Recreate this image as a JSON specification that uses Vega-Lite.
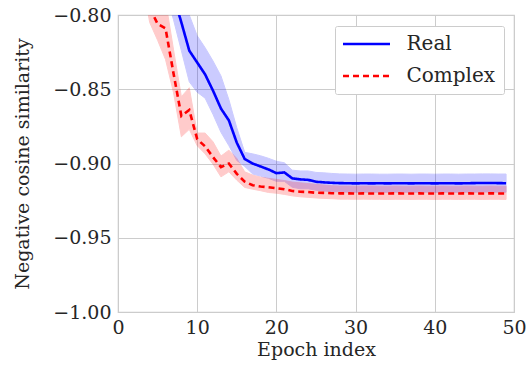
{
  "$schema": "https://vega.github.io/schema/vega-lite/v6.json",
  "width": 396,
  "height": 297,
  "autosize": {"type": "none"},
  "padding": {"left": 118, "top": 15, "right": 12, "bottom": 55},
  "background": "white",
  "config": {
    "view": {"stroke": "#cccccc", "strokeWidth": 1.2},
    "font": "DejaVu Serif",
    "axis": {
      "grid": true,
      "gridColor": "#cccccc",
      "gridWidth": 1,
      "domain": false,
      "ticks": false,
      "tickSize": 0,
      "labelFont": "DejaVu Serif",
      "labelFontSize": 19,
      "labelColor": "#262626",
      "titleFont": "DejaVu Serif",
      "titleFontSize": 19,
      "titleFontWeight": "normal",
      "titleColor": "#262626"
    },
    "legend": {
      "labelFont": "DejaVu Serif",
      "labelFontSize": 20,
      "labelColor": "#262626"
    }
  },
  "datasets": {
    "runs": [
      {"epoch": 0, "series": "Real", "mean": -0.50, "lo": -0.53, "hi": -0.47},
      {"epoch": 1, "series": "Real", "mean": -0.58, "lo": -0.61, "hi": -0.55},
      {"epoch": 2, "series": "Real", "mean": -0.64, "lo": -0.665, "hi": -0.615},
      {"epoch": 3, "series": "Real", "mean": -0.69, "lo": -0.715, "hi": -0.665},
      {"epoch": 4, "series": "Real", "mean": -0.72, "lo": -0.745, "hi": -0.70},
      {"epoch": 5, "series": "Real", "mean": -0.745, "lo": -0.765, "hi": -0.725},
      {"epoch": 6, "series": "Real", "mean": -0.765, "lo": -0.785, "hi": -0.748},
      {"epoch": 7, "series": "Real", "mean": -0.787, "lo": -0.803, "hi": -0.770},
      {"epoch": 8, "series": "Real", "mean": -0.805, "lo": -0.824, "hi": -0.786},
      {"epoch": 9, "series": "Real", "mean": -0.824, "lo": -0.845, "hi": -0.800},
      {"epoch": 10, "series": "Real", "mean": -0.832, "lo": -0.852, "hi": -0.814},
      {"epoch": 11, "series": "Real", "mean": -0.840, "lo": -0.856, "hi": -0.822},
      {"epoch": 12, "series": "Real", "mean": -0.851, "lo": -0.867, "hi": -0.831},
      {"epoch": 13, "series": "Real", "mean": -0.863, "lo": -0.879, "hi": -0.841},
      {"epoch": 14, "series": "Real", "mean": -0.871, "lo": -0.888, "hi": -0.857},
      {"epoch": 15, "series": "Real", "mean": -0.886, "lo": -0.898, "hi": -0.876},
      {"epoch": 16, "series": "Real", "mean": -0.897, "lo": -0.902, "hi": -0.8925},
      {"epoch": 17, "series": "Real", "mean": -0.900, "lo": -0.907, "hi": -0.8935},
      {"epoch": 18, "series": "Real", "mean": -0.902, "lo": -0.9085, "hi": -0.8948},
      {"epoch": 19, "series": "Real", "mean": -0.904, "lo": -0.910, "hi": -0.8965},
      {"epoch": 20, "series": "Real", "mean": -0.9065, "lo": -0.912, "hi": -0.8985},
      {"epoch": 21, "series": "Real", "mean": -0.906, "lo": -0.912, "hi": -0.8995},
      {"epoch": 22, "series": "Real", "mean": -0.910, "lo": -0.916, "hi": -0.9045},
      {"epoch": 23, "series": "Real", "mean": -0.9107, "lo": -0.917, "hi": -0.905},
      {"epoch": 24, "series": "Real", "mean": -0.911, "lo": -0.917, "hi": -0.905},
      {"epoch": 25, "series": "Real", "mean": -0.9123, "lo": -0.918, "hi": -0.906},
      {"epoch": 26, "series": "Real", "mean": -0.9127, "lo": -0.9185, "hi": -0.9063},
      {"epoch": 27, "series": "Real", "mean": -0.913, "lo": -0.919, "hi": -0.9067},
      {"epoch": 28, "series": "Real", "mean": -0.9132, "lo": -0.919, "hi": -0.907},
      {"epoch": 29, "series": "Real", "mean": -0.9133, "lo": -0.9193, "hi": -0.9071},
      {"epoch": 30, "series": "Real", "mean": -0.9134, "lo": -0.9194, "hi": -0.9072},
      {"epoch": 31, "series": "Real", "mean": -0.9133, "lo": -0.9193, "hi": -0.9071},
      {"epoch": 32, "series": "Real", "mean": -0.9134, "lo": -0.9194, "hi": -0.9071},
      {"epoch": 33, "series": "Real", "mean": -0.9133, "lo": -0.9193, "hi": -0.9072},
      {"epoch": 34, "series": "Real", "mean": -0.9134, "lo": -0.9194, "hi": -0.9072},
      {"epoch": 35, "series": "Real", "mean": -0.9133, "lo": -0.9193, "hi": -0.9071},
      {"epoch": 36, "series": "Real", "mean": -0.9133, "lo": -0.9193, "hi": -0.9071},
      {"epoch": 37, "series": "Real", "mean": -0.9134, "lo": -0.9194, "hi": -0.9072},
      {"epoch": 38, "series": "Real", "mean": -0.9133, "lo": -0.9193, "hi": -0.9071},
      {"epoch": 39, "series": "Real", "mean": -0.9133, "lo": -0.9193, "hi": -0.9071},
      {"epoch": 40, "series": "Real", "mean": -0.9134, "lo": -0.9194, "hi": -0.9072},
      {"epoch": 41, "series": "Real", "mean": -0.9133, "lo": -0.9193, "hi": -0.9071},
      {"epoch": 42, "series": "Real", "mean": -0.9133, "lo": -0.9193, "hi": -0.9071},
      {"epoch": 43, "series": "Real", "mean": -0.9134, "lo": -0.9194, "hi": -0.9072},
      {"epoch": 44, "series": "Real", "mean": -0.9133, "lo": -0.9193, "hi": -0.9071},
      {"epoch": 45, "series": "Real", "mean": -0.9132, "lo": -0.9193, "hi": -0.9071},
      {"epoch": 46, "series": "Real", "mean": -0.9131, "lo": -0.9192, "hi": -0.907},
      {"epoch": 47, "series": "Real", "mean": -0.9131, "lo": -0.9192, "hi": -0.907},
      {"epoch": 48, "series": "Real", "mean": -0.9132, "lo": -0.9193, "hi": -0.9071},
      {"epoch": 49, "series": "Real", "mean": -0.9133, "lo": -0.9193, "hi": -0.9071},
      {"epoch": 0, "series": "Complex", "mean": -0.50, "lo": -0.53, "hi": -0.47},
      {"epoch": 1, "series": "Complex", "mean": -0.58, "lo": -0.61, "hi": -0.55},
      {"epoch": 2, "series": "Complex", "mean": -0.66, "lo": -0.685, "hi": -0.635},
      {"epoch": 3, "series": "Complex", "mean": -0.75, "lo": -0.775, "hi": -0.73},
      {"epoch": 4, "series": "Complex", "mean": -0.795, "lo": -0.805, "hi": -0.787},
      {"epoch": 5, "series": "Complex", "mean": -0.806, "lo": -0.817, "hi": -0.795},
      {"epoch": 6, "series": "Complex", "mean": -0.809, "lo": -0.830, "hi": -0.790},
      {"epoch": 7, "series": "Complex", "mean": -0.839, "lo": -0.852, "hi": -0.823},
      {"epoch": 8, "series": "Complex", "mean": -0.868, "lo": -0.882, "hi": -0.855},
      {"epoch": 9, "series": "Complex", "mean": -0.864, "lo": -0.877, "hi": -0.849},
      {"epoch": 10, "series": "Complex", "mean": -0.8836, "lo": -0.888, "hi": -0.8795},
      {"epoch": 11, "series": "Complex", "mean": -0.8885, "lo": -0.8935, "hi": -0.8795},
      {"epoch": 12, "series": "Complex", "mean": -0.8957, "lo": -0.9005, "hi": -0.8854},
      {"epoch": 13, "series": "Complex", "mean": -0.9024, "lo": -0.909, "hi": -0.895},
      {"epoch": 14, "series": "Complex", "mean": -0.900, "lo": -0.9056, "hi": -0.891},
      {"epoch": 15, "series": "Complex", "mean": -0.907, "lo": -0.9112, "hi": -0.8966},
      {"epoch": 16, "series": "Complex", "mean": -0.9122, "lo": -0.9161, "hi": -0.9056},
      {"epoch": 17, "series": "Complex", "mean": -0.9146, "lo": -0.9173, "hi": -0.9078},
      {"epoch": 18, "series": "Complex", "mean": -0.9155, "lo": -0.9183, "hi": -0.9092},
      {"epoch": 19, "series": "Complex", "mean": -0.916, "lo": -0.9195, "hi": -0.910},
      {"epoch": 20, "series": "Complex", "mean": -0.9166, "lo": -0.920, "hi": -0.9107},
      {"epoch": 21, "series": "Complex", "mean": -0.9173, "lo": -0.9208, "hi": -0.9115},
      {"epoch": 22, "series": "Complex", "mean": -0.9185, "lo": -0.9218, "hi": -0.9125},
      {"epoch": 23, "series": "Complex", "mean": -0.919, "lo": -0.9224, "hi": -0.913},
      {"epoch": 24, "series": "Complex", "mean": -0.9192, "lo": -0.9228, "hi": -0.9135},
      {"epoch": 25, "series": "Complex", "mean": -0.9197, "lo": -0.9232, "hi": -0.914},
      {"epoch": 26, "series": "Complex", "mean": -0.9198, "lo": -0.9235, "hi": -0.9145},
      {"epoch": 27, "series": "Complex", "mean": -0.920, "lo": -0.9237, "hi": -0.915},
      {"epoch": 28, "series": "Complex", "mean": -0.9201, "lo": -0.924, "hi": -0.9152},
      {"epoch": 29, "series": "Complex", "mean": -0.9201, "lo": -0.924, "hi": -0.9152},
      {"epoch": 30, "series": "Complex", "mean": -0.9202, "lo": -0.9241, "hi": -0.9153},
      {"epoch": 31, "series": "Complex", "mean": -0.9201, "lo": -0.924, "hi": -0.9152},
      {"epoch": 32, "series": "Complex", "mean": -0.9202, "lo": -0.9241, "hi": -0.9152},
      {"epoch": 33, "series": "Complex", "mean": -0.9202, "lo": -0.9241, "hi": -0.9153},
      {"epoch": 34, "series": "Complex", "mean": -0.9202, "lo": -0.9242, "hi": -0.9153},
      {"epoch": 35, "series": "Complex", "mean": -0.9201, "lo": -0.9241, "hi": -0.9152},
      {"epoch": 36, "series": "Complex", "mean": -0.9202, "lo": -0.9241, "hi": -0.9153},
      {"epoch": 37, "series": "Complex", "mean": -0.9202, "lo": -0.9242, "hi": -0.9153},
      {"epoch": 38, "series": "Complex", "mean": -0.9201, "lo": -0.9241, "hi": -0.9152},
      {"epoch": 39, "series": "Complex", "mean": -0.9202, "lo": -0.9241, "hi": -0.9153},
      {"epoch": 40, "series": "Complex", "mean": -0.9202, "lo": -0.9242, "hi": -0.9153},
      {"epoch": 41, "series": "Complex", "mean": -0.9201, "lo": -0.9241, "hi": -0.9152},
      {"epoch": 42, "series": "Complex", "mean": -0.9202, "lo": -0.9241, "hi": -0.9153},
      {"epoch": 43, "series": "Complex", "mean": -0.9202, "lo": -0.9242, "hi": -0.9153},
      {"epoch": 44, "series": "Complex", "mean": -0.9201, "lo": -0.9241, "hi": -0.9152},
      {"epoch": 45, "series": "Complex", "mean": -0.9202, "lo": -0.9241, "hi": -0.9153},
      {"epoch": 46, "series": "Complex", "mean": -0.9202, "lo": -0.9242, "hi": -0.9153},
      {"epoch": 47, "series": "Complex", "mean": -0.9201, "lo": -0.9241, "hi": -0.9152},
      {"epoch": 48, "series": "Complex", "mean": -0.9202, "lo": -0.9241, "hi": -0.9153},
      {"epoch": 49, "series": "Complex", "mean": -0.9202, "lo": -0.9242, "hi": -0.9153}
    ]
  },
  "data": {"name": "runs"},
  "encoding": {
    "x": {
      "field": "epoch",
      "type": "quantitative",
      "scale": {"domain": [0, 50], "nice": false, "zero": false},
      "axis": {
        "title": "Epoch index",
        "values": [0, 10, 20, 30, 40, 50],
        "format": "d",
        "labelPadding": 6,
        "titlePadding": 3,
        "labelFlush": false
      }
    }
  },
  "layer": [
    {
      "mark": {"type": "area", "clip": true, "opacity": 0.2, "strokeWidth": 1, "strokeOpacity": 1},
      "encoding": {
        "y": {
          "field": "lo",
          "type": "quantitative",
          "scale": {"domain": [-1.0, -0.8], "nice": false, "zero": false},
          "axis": {
            "title": "Negative cosine similarity",
            "values": [-1.0, -0.95, -0.9, -0.85, -0.8],
            "format": ".2f",
            "labelPadding": 7,
            "titlePadding": 20,
            "labelFlush": false
          }
        },
        "y2": {"field": "hi"},
        "fill": {
          "field": "series",
          "type": "nominal",
          "scale": {"domain": ["Real", "Complex"], "range": ["#0000ff", "#ff0000"]},
          "legend": null
        },
        "stroke": {
          "field": "series",
          "type": "nominal",
          "scale": {"domain": ["Real", "Complex"], "range": ["#0000ff", "#ff0000"]},
          "legend": null
        },
        "detail": {"field": "series"}
      }
    },
    {
      "mark": {"type": "line", "clip": true, "strokeWidth": 2.6},
      "encoding": {
        "y": {"field": "mean", "type": "quantitative"},
        "color": {
          "field": "series",
          "type": "nominal",
          "scale": {"domain": ["Real", "Complex"], "range": ["#0000ff", "#ff0000"]},
          "legend": {
            "title": null,
            "orient": "none",
            "legendX": 217,
            "legendY": 11,
            "symbolType": "M-4,0H4",
            "symbolSize": 138,
            "symbolOffset": 13.5,
            "symbolStrokeWidth": 2.6,
            "labelOffset": 30,
            "rowPadding": 12,
            "padding": 8,
            "fillColor": "white",
            "strokeColor": "#cccccc",
            "cornerRadius": 2
          }
        },
        "strokeDash": {
          "field": "series",
          "type": "nominal",
          "scale": {"domain": ["Real", "Complex"], "range": [[1, 0], [6, 4]]},
          "legend": {
            "title": null,
            "orient": "none",
            "legendX": 217,
            "legendY": 11,
            "symbolType": "M-4,0H4",
            "symbolSize": 138,
            "symbolOffset": 13.5,
            "symbolStrokeWidth": 2.6,
            "labelOffset": 30,
            "rowPadding": 12,
            "padding": 8,
            "fillColor": "white",
            "strokeColor": "#cccccc",
            "cornerRadius": 2
          }
        }
      }
    }
  ],
  "resolve": {"scale": {"fill": "independent", "stroke": "independent"}}
}
